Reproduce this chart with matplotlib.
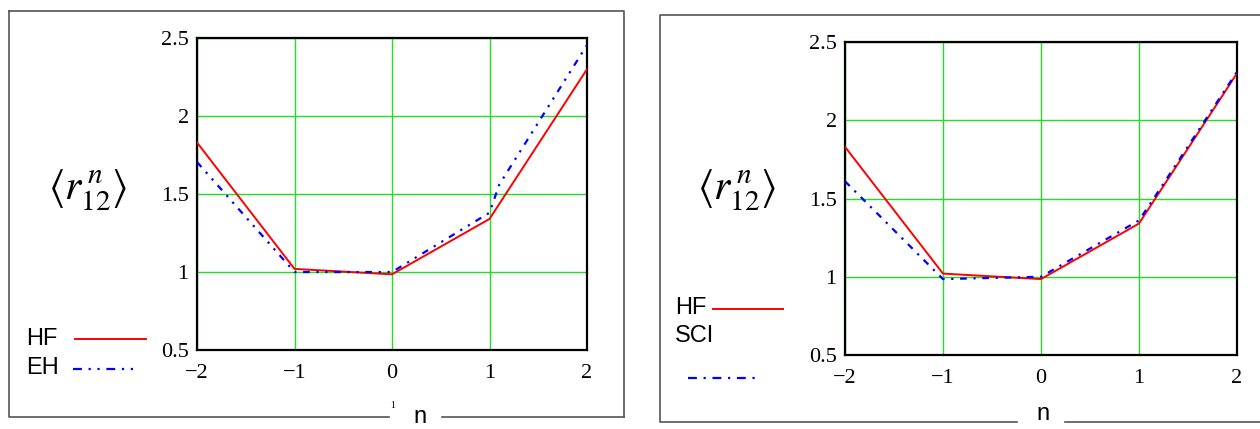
import matplotlib.pyplot as plt
from matplotlib.lines import Line2D

plt.rcParams['mathtext.fontset'] = 'stix'

# data
n_vals = [-2, -1, 0, 1, 2]
hf = [1.83, 1.02, 0.985, 1.34, 2.30]
eh_n = [-2, -1, 0, 1, 1.1, 2]
eh = [1.705, 1.0, 1.0, 1.38, 1.56, 2.455]
sci_n = [-2, -1, 0, 1, 1.15, 2]
sci = [1.61, 0.985, 1.0, 1.36, 1.5, 2.31]
xticks = [-2, -1, 0, 1, 2]
xtick_labels = ['\u22122', '\u22121', '0', '1', '2']
yticks = [0.5, 1, 1.5, 2, 2.5]
ytick_labels = ['0.5', '1', '1.5', '2', '2.5']

W, H = 1260, 429
fig = plt.figure(figsize=(W / 100, H / 100), dpi=100)


def fx(px):
    return px / W


def fy(py):
    return 1 - py / H


def frame_line(xs, ys, color='#555555', lw=1.2):
    fig.add_artist(Line2D([fx(x) for x in xs], [fy(y) for y in ys],
                          color=color, lw=lw, transform=fig.transFigure))


def setup_axes(rect):
    ax = fig.add_axes(rect)
    ax.set_xlim(-2, 2)
    ax.set_ylim(0.5, 2.5)
    ax.set_xticks(xticks)
    ax.set_xticklabels(xtick_labels, family='Liberation Serif', fontsize=16)
    ax.set_yticks(yticks)
    ax.set_yticklabels(ytick_labels, family='Liberation Serif', fontsize=16)
    ax.tick_params(axis='x', length=0, pad=10)
    ax.tick_params(axis='y', length=0, pad=6)
    ax.grid(True, color='#22dd22', lw=1.0)
    for s in ax.spines.values():
        s.set_linewidth(1.6)
        s.set_color('black')
    return ax


# left panel
ax1 = setup_axes([fx(197), fy(350), fx(587) - fx(197), fy(38) - fy(350)])
ax1.plot(n_vals, hf, color='red', lw=1.4, zorder=3)
ax1.plot(eh_n, eh, color='blue', lw=1.6, ls=(0, (3, 3, 1, 3, 1, 3)), zorder=3)

frame_line([9, 624, 624], [11, 11, 417])
frame_line([9, 9, 389], [11, 417, 417])
frame_line([442, 624], [417, 417])
fig.text(fx(420), fy(417), 'n', family='Liberation Sans', fontsize=17,
         ha='center', va='center')
fig.text(fx(393), fy(405), '1', family='Liberation Serif', fontsize=7,
         ha='center', va='center')
fig.text(fx(88), fy(190), r'$\langle r_{12}^{\,n} \rangle$', fontsize=30,
         ha='center', va='center')

fig.text(fx(26), fy(339), 'HF', family='Liberation Sans', fontsize=17,
         ha='left', va='center')
fig.text(fx(26), fy(368), 'EH', family='Liberation Sans', fontsize=17,
         ha='left', va='center')
fig.add_artist(Line2D([fx(75), fx(146)], [fy(339), fy(339)], color='red',
                      lw=1.4, transform=fig.transFigure))
fig.add_artist(Line2D([fx(73), fx(138)], [fy(369), fy(369)], color='blue',
                      lw=1.6, ls=(0, (4, 3, 1, 3, 1, 3)),
                      transform=fig.transFigure))

# right panel
ax2 = setup_axes([fx(845), fy(355), fx(1237) - fx(845), fy(42) - fy(355)])
ax2.plot(n_vals, hf, color='red', lw=1.4, zorder=3)
ax2.plot(sci_n, sci, color='blue', lw=1.6, ls=(0, (3, 3, 1, 3)), zorder=3)

frame_line([1262, 660, 660, 1017], [15, 15, 422, 422])
frame_line([1065, 1262], [422, 422])
fig.text(fx(1043), fy(414), 'n', family='Liberation Sans', fontsize=17,
         ha='center', va='center')
fig.text(fx(737), fy(190), r'$\langle r_{12}^{\,n} \rangle$', fontsize=30,
         ha='center', va='center')

fig.text(fx(675), fy(308), 'HF', family='Liberation Sans', fontsize=17,
         ha='left', va='center')
fig.text(fx(675), fy(336), 'SCI', family='Liberation Sans', fontsize=17,
         ha='left', va='center')
fig.add_artist(Line2D([fx(713), fx(783)], [fy(309), fy(309)], color='red',
                      lw=1.4, transform=fig.transFigure))
fig.add_artist(Line2D([fx(688), fx(759)], [fy(378), fy(378)], color='blue',
                      lw=1.6, ls=(0, (4, 3, 1, 3)),
                      transform=fig.transFigure))

fig.savefig('out.png', dpi=100)
